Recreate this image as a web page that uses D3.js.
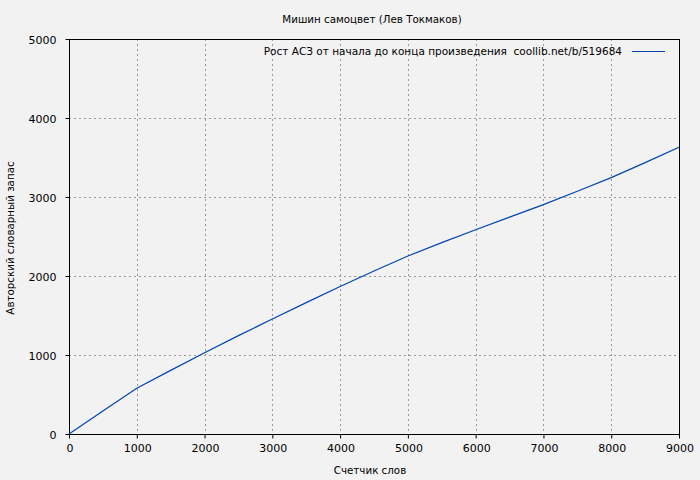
<!DOCTYPE html>
<html><head><meta charset="utf-8">
<script src="https://cdn.jsdelivr.net/npm/d3@7"></script>
<style>body{margin:0;background:#f2f2f2}svg{display:block}text{font-family:"DejaVu Sans",Verdana,sans-serif;font-size:10.3px;fill:#000}</style>
</head><body>
<script>
const title = "Мишин самоцвет (Лев Токмаков)";
const xLabel = "Счетчик слов";
const yLabel = "Авторский словарный запас";
const legendText = "Рост АСЗ от начала до конца произведения  coollib.net/b/519684";
const words = [0, 500, 1000, 1500, 2000, 2500, 3000, 3500, 4000, 4500, 5000, 5500, 6000, 6500, 7000, 7500, 8000, 8500, 9000];
const vocab = [0, 292, 578, 805, 1029, 1245, 1455, 1663, 1868, 2063, 2253, 2422, 2586, 2745, 2903, 3072, 3245, 3435, 3629];
const xTicks = [0, 1000, 2000, 3000, 4000, 5000, 6000, 7000, 8000, 9000];
const yTicks = [0, 1000, 2000, 3000, 4000, 5000];

const W = 700, H = 480;
const m = {l: 69, r: 21, t: 39, b: 46};
const svg = d3.select("body").append("svg").attr("width", W).attr("height", H);
svg.append("rect").attr("width", W).attr("height", H).attr("fill", "#f2f2f2");

const x = d3.scaleLinear().domain([0, 9000]).range([m.l, W - m.r]);
const y = d3.scaleLinear().domain([0, 5000]).range([H - m.b, m.t]);
const crisp = v => Math.round(v) + 0.5;

const g = svg.append("g");
g.selectAll(".vg").data(xTicks.slice(1, -1)).enter().append("line")
  .attr("x1", d => crisp(x(d))).attr("x2", d => crisp(x(d)))
  .attr("y1", m.t).attr("y2", H - m.b)
  .attr("stroke", "#999").attr("stroke-dasharray", "2,3");
g.selectAll(".hg").data(yTicks.slice(1, -1)).enter().append("line")
  .attr("y1", d => crisp(y(d))).attr("y2", d => crisp(y(d)))
  .attr("x1", m.l).attr("x2", W - m.r)
  .attr("stroke", "#999").attr("stroke-dasharray", "2,3");

svg.append("rect").attr("x", crisp(m.l)).attr("y", crisp(m.t))
  .attr("width", Math.round(W - m.r) - Math.round(m.l)).attr("height", Math.round(H - m.b) - Math.round(m.t))
  .attr("fill", "none").attr("stroke", "#000").attr("stroke-width", 1);

const xa = svg.append("g").attr("transform", `translate(0.5,${crisp(H - m.b)})`)
  .call(d3.axisBottom(x).tickValues(xTicks).tickSize(4).tickPadding(6).tickFormat(d3.format("d")));
const ya = svg.append("g").attr("transform", `translate(${crisp(m.l)},0.5)`)
  .call(d3.axisLeft(y).tickValues(yTicks).tickSize(4).tickPadding(9).tickFormat(d3.format("d")));
[xa, ya].forEach(a => {
  a.select(".domain").remove();
  a.selectAll("line").attr("stroke", "#000");
  a.selectAll("text").style("font-family", '"DejaVu Sans",Verdana,sans-serif').style("font-size", "11px").attr("fill", "#000");
});
xa.selectAll(".tick line").attr("transform", "translate(-0.5,0)");
ya.selectAll(".tick line").attr("transform", "translate(0,-0.5)");

const line = d3.line().x((d, i) => x(words[i])).y(d => y(d));
svg.append("path").datum(vocab).attr("d", line)
  .attr("fill", "none").attr("stroke", "#0044b0").attr("stroke-width", 1.2);

svg.append("text").attr("x", 372).attr("y", 23).attr("text-anchor", "middle").text(title);
svg.append("text").attr("x", 370).attr("y", 474).attr("text-anchor", "middle").text(xLabel);
svg.append("text").attr("transform", "translate(14,238) rotate(-90)").attr("text-anchor", "middle").text(yLabel);

svg.append("text").attr("x", 622).attr("y", 55).attr("text-anchor", "end")
  .style("white-space", "pre").style("font-size", "10.5px").text(legendText);
svg.append("line").attr("x1", 632).attr("x2", 665).attr("y1", 51.5).attr("y2", 51.5)
  .attr("stroke", "#0044b0").attr("stroke-width", 1.2);
</script>
</body></html>
